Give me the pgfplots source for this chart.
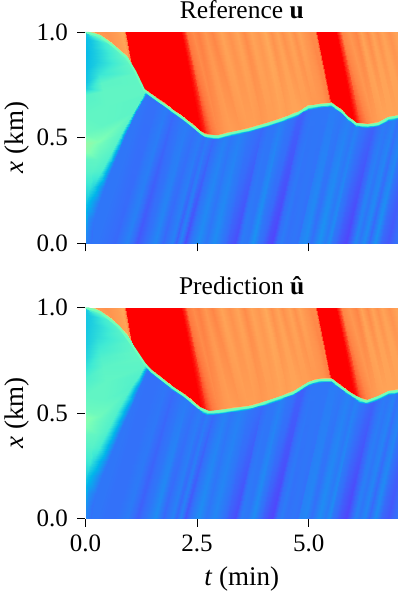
\documentclass[border=0pt]{standalone}
\usepackage{pgfplots}
\pgfplotsset{compat=1.18}
\usepackage{fontspec}
\setmainfont{Liberation Serif}
% close to matplotlib "rainbow"
\pgfplotsset{
colormap={rb}{rgb=(.5,0,1) rgb=(.21,.43,.98) rgb=(0,.71,.92) rgb=(.25,.92,.83) rgb=(.5,1,.71) rgb=(.75,.92,.56) rgb=(1,.71,.38) rgb=(1,.42,.22) rgb=(1,0,0)},
field/.style={
 scale only axis,width=312.5bp,height=211.2bp,view={0}{90},
 xmin=0,xmax=7,ymin=0,ymax=1,zmin=-1,zmax=1,
 point meta min=0,point meta max=1,colormap name=rb,
 axis line style={draw=none},xtick pos=lower,ytick pos=left,
 xtick={0,2.5,5},ytick={0,0.5,1},
 tick align=outside,major tick length=8bp,
 tick style={black,line width=.9bp},
 ticklabel style={font=\fontsize{25bp}{30bp}\selectfont,/pgf/number format/assume math mode=true,/pgf/number format/fixed,/pgf/number format/fixed zerofill,/pgf/number format/precision=1},
 xticklabel style={yshift=-5bp},yticklabel style={xshift=-6bp},
 label style={font=\fontsize{27bp}{30bp}\selectfont},
 every axis title shift=0pt,
 title style={font=\fontsize{25.5bp}{30bp}\selectfont,at={(0.5,1)},anchor=base,yshift=13bp},
 ylabel={\textit{x} (km)},
 ylabel style={at={(0,0.5)},anchor=base,rotate=0,yshift=62bp},
},
mesh5/.style={surf,shader=interp,mesh/cols=5,point meta=explicit},
mesh4/.style={surf,shader=interp,mesh/cols=4,point meta=explicit},
front/.style={color={rgb,1:red,.45;green,1;blue,.72},line width=2bp,line join=round},
edge/.style={color=white,opacity=.3,line width=1bp},
}
\begin{document}
\begin{tikzpicture}
\path[use as bounding box] (-85.5bp,-76.3bp) rectangle (312.5bp,518.7bp);
\begin{axis}[field,at={(0bp,275.5bp)},title={Reference \textbf{u}},xticklabels={}]
\addplot3[mesh5] table[row sep=\\,z expr=0,meta=c] {t x c\\
-1.5 0 .14\\ 0 .988 .14\\ 0 1 .46\\ 0 1.01 .8\\ 0 1.02 .8\\
-1.34 0 .14\\ .15 .979 .14\\ .15 .991 .46\\ .15 1.003 .8\\ .14 1.02 .8\\
-1.14 0 .14\\ .33 .968 .14\\ .33 .98 .46\\ .33 .992 .8\\ .31 1 .8\\
-.93 0 .14\\ .5 .941 .14\\ .5 .953 .46\\ .5 .965 .8\\ .46 1 .81\\
-.77 0 .14\\ .63 .92 .14\\ .63 .932 .46\\ .63 .944 .8\\ .57 1 .8\\
-.55 0 .14\\ .8 .889 .14\\ .8 .901 .46\\ .8 .913 .79\\ .71 1 .79\\
-.39 0 .14\\ .93 .865 .14\\ .93 .877 .46\\ .93 .889 .78\\ .82 1 .77\\
-.28 0 .14\\ 1 .841 .14\\ 1 .853 .46\\ 1 .865 .82\\ .87 1 .78\\
-.2 0 .14\\ 1.05 .823 .14\\ 1.05 .835 .46\\ 1.05 .847 1\\ .9 1 1\\
-.11 0 .14\\ 1.11 .802 .14\\ 1.11 .814 .46\\ 1.11 .826 1\\ .94 1 1\\
.05 0 .14\\ 1.2 .752 .14\\ 1.2 .764 .46\\ 1.2 .776 1\\ 1 1 1\\
.23 0 .14\\ 1.315 .712 .14\\ 1.315 .724 .46\\ 1.315 .736 1\\ 1.07 1 1\\
.43 0 .13\\ 1.45 .691 .13\\ 1.45 .703 .46\\ 1.45 .715 1\\ 1.18 1 1\\
.65 0 .12\\ 1.6 .668 .13\\ 1.6 .68 .46\\ 1.6 .692 1\\ 1.31 1 1\\
.92 0 .16\\ 1.8 .638 .15\\ 1.8 .65 .46\\ 1.8 .662 1\\ 1.49 1 1\\
1.16 0 .10\\ 1.97 .612 .12\\ 1.97 .624 .46\\ 1.97 .636 1\\ 1.63 1 1\\
1.35 0 .13\\ 2.13 .588 .14\\ 2.13 .6 .46\\ 2.13 .612 1\\ 1.77 1 1\\
1.55 0 .17\\ 2.27 .565 .15\\ 2.27 .577 .46\\ 2.27 .589 1\\ 1.89 1 1\\
1.73 0 .12\\ 2.42 .54 .13\\ 2.42 .552 .46\\ 2.42 .564 1\\ 2.02 1 1\\
1.94 0 .16\\ 2.57 .513 .15\\ 2.57 .525 .46\\ 2.57 .537 1\\ 2.14 1 1\\
2.03 0 .11\\ 2.65 .501 .13\\ 2.65 .513 .46\\ 2.65 .525 .97\\ 2.21 1 .95\\
2.11 0 .16\\ 2.72 .496 .15\\ 2.72 .508 .46\\ 2.72 .52 .92\\ 2.28 1 .85\\
2.24 0 .09\\ 2.85 .493 .12\\ 2.85 .505 .46\\ 2.85 .517 .85\\ 2.4 1 .82\\
2.39 0 .15\\ 2.97 .493 .14\\ 2.97 .505 .46\\ 2.97 .517 .82\\ 2.52 1 .84\\
2.53 0 .18\\ 3.12 .501 .16\\ 3.12 .513 .46\\ 3.12 .525 .8\\ 2.68 1 .8\\
2.7 0 .14\\ 3.27 .509 .14\\ 3.27 .521 .46\\ 3.27 .533 .79\\ 2.84 1 .83\\
2.87 0 .18\\ 3.45 .517 .16\\ 3.45 .529 .46\\ 3.45 .541 .8\\ 3.03 1 .78\\
3.05 0 .14\\ 3.64 .525 .14\\ 3.64 .537 .46\\ 3.64 .549 .79\\ 3.22 1 .81\\
3.2 0 .11\\ 3.8 .535 .13\\ 3.8 .547 .46\\ 3.8 .559 .79\\ 3.39 1 .78\\
3.34 0 .09\\ 3.95 .544 .12\\ 3.95 .556 .46\\ 3.95 .568 .8\\ 3.55 1 .82\\
3.48 0 .15\\ 4.1 .554 .14\\ 4.1 .566 .46\\ 4.1 .578 .79\\ 3.71 1 .78\\
3.62 0 .14\\ 4.25 .564 .14\\ 4.25 .576 .46\\ 4.25 .588 .79\\ 3.87 1 .8\\
3.75 0 .19\\ 4.39 .573 .16\\ 4.39 .585 .46\\ 4.39 .597 .78\\ 4.02 1 .77\\
3.86 0 .14\\ 4.52 .584 .14\\ 4.52 .596 .46\\ 4.52 .608 .79\\ 4.16 1 .81\\
3.98 0 .12\\ 4.65 .595 .13\\ 4.65 .607 .46\\ 4.65 .619 .78\\ 4.3 1 .78\\
4.08 0 .09\\ 4.76 .604 .11\\ 4.76 .616 .46\\ 4.76 .628 .78\\ 4.41 1 .81\\
4.18 0 .08\\ 4.88 .62 .11\\ 4.88 .632 .46\\ 4.88 .644 .79\\ 4.55 1 .78\\
4.28 0 .13\\ 4.99 .633 .13\\ 4.99 .645 .46\\ 4.99 .657 .79\\ 4.67 1 .81\\
4.39 0 .15\\ 5.1 .637 .14\\ 5.1 .649 .46\\ 5.1 .661 .8\\ 4.78 1 .78\\
4.49 0 .13\\ 5.21 .64 .14\\ 5.21 .652 .46\\ 5.21 .664 .8\\ 4.9 1 .8\\
4.63 0 .14\\ 5.35 .643 .14\\ 5.35 .655 .46\\ 5.35 .667 .81\\ 5.04 1 .82\\
4.73 0 .13\\ 5.45 .646 .14\\ 5.45 .658 .46\\ 5.45 .67 .84\\ 5.14 1 .82\\
4.79 0 .16\\ 5.51 .647 .15\\ 5.51 .659 .46\\ 5.51 .671 1\\ 5.19 1 1\\
4.91 0 .18\\ 5.62 .63 .15\\ 5.62 .642 .46\\ 5.62 .654 1\\ 5.3 1 1\\
5.05 0 .13\\ 5.74 .612 .14\\ 5.74 .624 .46\\ 5.74 .636 1\\ 5.4 1 1\\
5.24 0 .19\\ 5.89 .58 .16\\ 5.89 .592 .46\\ 5.89 .604 1\\ 5.52 1 1\\
5.37 0 .15\\ 6 .563 .14\\ 6 .575 .46\\ 6 .587 1\\ 5.62 1 1\\
5.45 0 .18\\ 6.07 .552 .16\\ 6.07 .564 .46\\ 6.07 .576 .98\\ 5.68 1 .93\\
5.53 0 .14\\ 6.15 .548 .14\\ 6.15 .56 .46\\ 6.15 .572 .9\\ 5.75 1 .83\\
5.69 0 .1\\ 6.3 .546 .12\\ 6.3 .558 .46\\ 6.3 .57 .83\\ 5.9 1 .8\\
5.83 0 .08\\ 6.45 .55 .11\\ 6.45 .562 .46\\ 6.45 .574 .8\\ 6.06 1 .83\\
5.94 0 .12\\ 6.56 .554 .13\\ 6.56 .566 .46\\ 6.56 .578 .79\\ 6.17 1 .78\\
6.04 0 .17\\ 6.68 .568 .15\\ 6.68 .58 .46\\ 6.68 .592 .78\\ 6.3 1 .82\\
6.13 0 .14\\ 6.78 .58 .14\\ 6.78 .592 .46\\ 6.78 .604 .78\\ 6.41 1 .78\\
6.24 0 .18\\ 6.9 .584 .16\\ 6.9 .596 .46\\ 6.9 .608 .78\\ 6.54 1 .81\\
6.34 0 .12\\ 7 .588 .13\\ 7 .6 .46\\ 7 .612 .78\\ 6.64 1 .78\\
6.49 0 .19\\ 7.15 .592 .16\\ 7.15 .604 .46\\ 7.15 .616 .78\\ 6.79 1 .81\\
6.63 0 .12\\ 7.3 .596 .13\\ 7.3 .608 .46\\ 7.3 .62 .78\\ 6.95 1 .78\\
6.78 0 .1\\ 7.45 .6 .12\\ 7.45 .612 .46\\ 7.45 .624 .78\\ 7.1 1 .8\\
7.02 0 .14\\ 7.7 .608 .14\\ 7.7 .62 .46\\ 7.7 .632 .78\\ 7.36 1 .78\\
};
\addplot3[mesh4] table[row sep=\\,z expr=0,meta=c] {t x c\\
0 1 .3\\ 0 1 .3\\ 0 1 .4\\ 0 1 .46\\
0 .97 .27\\ .07 .965 .28\\ .2 .975 .38\\ .22 .987 .46\\
0 .9 .26\\ .15 .92 .29\\ .5 .941 .4\\ .5 .953 .46\\
0 .82 .27\\ .25 .86 .31\\ .78 .889 .43\\ .8 .901 .46\\
0 .76 .28\\ .3 .8 .36\\ .98 .848 .44\\ 1 .853 .46\\
0 .735 .3\\ .35 .76 .43\\ 1.1 .805 .44\\ 1.11 .814 .46\\
0 .7 .42\\ .4 .72 .44\\ 1.2 .755 .44\\ 1.21 .762 .46\\
0 .6 .44\\ .45 .65 .44\\ 1.3 .715 .44\\ 1.33 .722 .46\\
0 .52 .46\\ .4 .56 .44\\ 1.26 .69 .43\\ 1.36 .704 .14\\
0 .47 .55\\ .3 .485 .5\\ 1.06 .62 .43\\ 1.14 .62 .14\\
0 .44 .53\\ .35 .47 .47\\ .82 .53 .43\\ .94 .53 .14\\
0 .4 .44\\ .25 .4 .44\\ .57 .43 .42\\ .73 .43 .15\\
0 .34 .42\\ .15 .34 .42\\ .34 .34 .4\\ .54 .34 .15\\
0 .27 .36\\ .1 .27 .36\\ .17 .27 .33\\ .42 .27 .15\\
0 .2 .3\\ .02 .2 .3\\ .05 .2 .27\\ .3 .2 .15\\
0 .12 .24\\ .03 .12 .22\\ .06 .12 .18\\ .2 .12 .14\\
0 .05 .2\\ .02 .05 .18\\ .05 .05 .16\\ .15 .05 .13\\
0 0 .17\\ .02 0 .16\\ .05 0 .15\\ .12 0 .13\\
};
\addplot3[front] coordinates {(0,1,0)(.33,.98,0)(.63,.932,0)(.93,.877,0)(1.11,.814,0)(1.315,.724,0)(1.6,.68,0)(1.97,.624,0)(2.27,.577,0)(2.57,.525,0)(2.67,.51,0)(2.97,.505,0)(3.27,.521,0)(3.64,.537,0)(4.02,.561,0)(4.39,.585,0)(4.76,.616,0)(4.99,.645,0)(5.21,.652,0)(5.51,.659,0)(5.74,.624,0)(5.89,.592,0)(6.07,.564,0)(6.33,.558,0)(6.56,.566,0)(6.78,.592,0)(7,.6,0)};
\addplot3[edge] coordinates {(.2,1,0)(7,1,0)};
\end{axis}
\begin{axis}[field,at={(0bp,0bp)},title={Prediction \textbf{û}},
 xlabel={\textit{t} (min)},xlabel style={at={(0.5,0)},anchor=base,yshift=-66.3bp}]
\addplot3[mesh5] table[row sep=\\,z expr=0,meta=c] {t x c\\
-1.5 0 .14\\ 0 .988 .14\\ 0 1 .46\\ 0 1.01 .8\\ 0 1.02 .8\\
-1.34 0 .14\\ .15 .981 .14\\ .15 .993 .46\\ .15 1.005 .8\\ .14 1.02 .8\\
-1.14 0 .14\\ .33 .966 .14\\ .33 .978 .46\\ .33 .99 .8\\ .31 1 .8\\
-.93 0 .14\\ .5 .94 .14\\ .5 .952 .46\\ .5 .964 .8\\ .46 1 .81\\
-.77 0 .14\\ .63 .918 .14\\ .63 .93 .46\\ .63 .942 .8\\ .57 1 .8\\
-.55 0 .14\\ .8 .883 .14\\ .8 .895 .46\\ .8 .907 .79\\ .71 1 .79\\
-.39 0 .14\\ .93 .854 .14\\ .93 .866 .46\\ .93 .878 .78\\ .82 1 .77\\
-.28 0 .14\\ 1 .833 .14\\ 1 .845 .46\\ 1 .857 .82\\ .87 1 .78\\
-.2 0 .14\\ 1.05 .814 .14\\ 1.05 .826 .46\\ 1.05 .838 1\\ .9 1 1\\
-.11 0 .14\\ 1.11 .79 .14\\ 1.11 .802 .46\\ 1.11 .814 1\\ .94 1 1\\
.05 0 .14\\ 1.2 .758 .14\\ 1.2 .77 .46\\ 1.2 .782 1\\ 1 1 1\\
.23 0 .14\\ 1.315 .723 .14\\ 1.315 .735 .46\\ 1.315 .747 1\\ 1.07 1 1\\
.43 0 .13\\ 1.45 .69 .13\\ 1.45 .702 .46\\ 1.45 .714 1\\ 1.18 1 1\\
.65 0 .13\\ 1.6 .664 .13\\ 1.6 .676 .46\\ 1.6 .688 1\\ 1.31 1 1\\
.92 0 .15\\ 1.8 .632 .14\\ 1.8 .644 .46\\ 1.8 .656 1\\ 1.49 1 1\\
1.16 0 .11\\ 1.97 .605 .12\\ 1.97 .617 .46\\ 1.97 .629 1\\ 1.63 1 1\\
1.35 0 .14\\ 2.13 .583 .14\\ 2.13 .595 .46\\ 2.13 .607 1\\ 1.77 1 1\\
1.55 0 .18\\ 2.27 .561 .15\\ 2.27 .573 .46\\ 2.27 .585 1\\ 1.89 1 1\\
1.73 0 .12\\ 2.42 .534 .13\\ 2.42 .546 .46\\ 2.42 .558 1\\ 2.02 1 1\\
1.94 0 .16\\ 2.57 .508 .15\\ 2.57 .52 .46\\ 2.57 .532 1\\ 2.14 1 1\\
2.03 0 .12\\ 2.65 .498 .13\\ 2.65 .51 .46\\ 2.65 .522 .97\\ 2.21 1 .95\\
2.11 0 .16\\ 2.72 .493 .15\\ 2.72 .505 .46\\ 2.72 .517 .92\\ 2.28 1 .85\\
2.24 0 .1\\ 2.85 .491 .12\\ 2.85 .503 .46\\ 2.85 .515 .85\\ 2.4 1 .82\\
2.39 0 .15\\ 2.97 .495 .14\\ 2.97 .507 .46\\ 2.97 .519 .82\\ 2.52 1 .84\\
2.53 0 .18\\ 3.12 .5 .16\\ 3.12 .512 .46\\ 3.12 .524 .8\\ 2.68 1 .8\\
2.7 0 .14\\ 3.27 .504 .14\\ 3.27 .516 .46\\ 3.27 .528 .79\\ 2.84 1 .83\\
2.87 0 .17\\ 3.45 .51 .16\\ 3.45 .522 .46\\ 3.45 .534 .8\\ 3.03 1 .78\\
3.05 0 .14\\ 3.64 .515 .14\\ 3.64 .527 .46\\ 3.64 .539 .79\\ 3.22 1 .81\\
3.2 0 .11\\ 3.8 .524 .13\\ 3.8 .536 .46\\ 3.8 .548 .79\\ 3.39 1 .78\\
3.34 0 .09\\ 3.95 .533 .12\\ 3.95 .545 .46\\ 3.95 .557 .8\\ 3.55 1 .82\\
3.48 0 .15\\ 4.1 .543 .14\\ 4.1 .555 .46\\ 4.1 .567 .79\\ 3.71 1 .78\\
3.62 0 .14\\ 4.25 .554 .14\\ 4.25 .566 .46\\ 4.25 .578 .79\\ 3.87 1 .8\\
3.75 0 .18\\ 4.39 .564 .16\\ 4.39 .576 .46\\ 4.39 .588 .78\\ 4.02 1 .77\\
3.86 0 .14\\ 4.52 .574 .14\\ 4.52 .586 .46\\ 4.52 .598 .79\\ 4.16 1 .81\\
3.98 0 .11\\ 4.65 .584 .13\\ 4.65 .596 .46\\ 4.65 .608 .78\\ 4.3 1 .78\\
4.08 0 .09\\ 4.76 .598 .11\\ 4.76 .61 .46\\ 4.76 .622 .78\\ 4.41 1 .81\\
4.18 0 .08\\ 4.88 .614 .11\\ 4.88 .626 .46\\ 4.88 .638 .79\\ 4.55 1 .78\\
4.28 0 .13\\ 4.99 .629 .13\\ 4.99 .641 .46\\ 4.99 .653 .79\\ 4.67 1 .81\\
4.39 0 .15\\ 5.1 .638 .14\\ 5.1 .65 .46\\ 5.1 .662 .8\\ 4.78 1 .78\\
4.49 0 .13\\ 5.21 .643 .14\\ 5.21 .655 .46\\ 5.21 .667 .8\\ 4.9 1 .8\\
4.63 0 .14\\ 5.35 .645 .14\\ 5.35 .657 .46\\ 5.35 .669 .81\\ 5.04 1 .82\\
4.73 0 .13\\ 5.45 .645 .14\\ 5.45 .657 .46\\ 5.45 .669 .84\\ 5.14 1 .82\\
4.79 0 .16\\ 5.51 .645 .15\\ 5.51 .657 .46\\ 5.51 .669 1\\ 5.19 1 1\\
4.91 0 .17\\ 5.62 .626 .15\\ 5.62 .638 .46\\ 5.62 .65 1\\ 5.3 1 1\\
5.05 0 .13\\ 5.74 .608 .14\\ 5.74 .62 .46\\ 5.74 .632 1\\ 5.4 1 1\\
5.24 0 .18\\ 5.89 .586 .16\\ 5.89 .598 .46\\ 5.89 .61 1\\ 5.52 1 1\\
5.37 0 .15\\ 6 .57 .14\\ 6 .582 .46\\ 6 .594 1\\ 5.62 1 1\\
5.45 0 .18\\ 6.07 .56 .16\\ 6.07 .572 .46\\ 6.07 .584 .98\\ 5.68 1 .93\\
5.53 0 .14\\ 6.15 .55 .14\\ 6.15 .562 .46\\ 6.15 .574 .9\\ 5.75 1 .83\\
5.69 0 .1\\ 6.3 .543 .12\\ 6.3 .555 .46\\ 6.3 .567 .83\\ 5.9 1 .8\\
5.83 0 .08\\ 6.45 .554 .11\\ 6.45 .566 .46\\ 6.45 .578 .8\\ 6.06 1 .83\\
5.94 0 .12\\ 6.56 .564 .13\\ 6.56 .576 .46\\ 6.56 .588 .79\\ 6.17 1 .78\\
6.04 0 .16\\ 6.68 .578 .15\\ 6.68 .59 .46\\ 6.68 .602 .78\\ 6.3 1 .82\\
6.13 0 .14\\ 6.78 .586 .14\\ 6.78 .598 .46\\ 6.78 .61 .78\\ 6.41 1 .78\\
6.24 0 .17\\ 6.9 .59 .16\\ 6.9 .602 .46\\ 6.9 .614 .78\\ 6.54 1 .81\\
6.34 0 .12\\ 7 .593 .13\\ 7 .605 .46\\ 7 .617 .78\\ 6.64 1 .78\\
6.49 0 .18\\ 7.15 .598 .16\\ 7.15 .61 .46\\ 7.15 .622 .78\\ 6.79 1 .81\\
6.63 0 .12\\ 7.3 .6 .13\\ 7.3 .612 .46\\ 7.3 .624 .78\\ 6.95 1 .78\\
6.78 0 .1\\ 7.45 .603 .12\\ 7.45 .615 .46\\ 7.45 .627 .78\\ 7.1 1 .8\\
7.02 0 .14\\ 7.7 .608 .14\\ 7.7 .62 .46\\ 7.7 .632 .78\\ 7.36 1 .78\\
};
\addplot3[mesh4] table[row sep=\\,z expr=0,meta=c] {t x c\\
0 1 .3\\ 0 1 .3\\ 0 1 .4\\ 0 1 .46\\
0 .97 .29\\ .07 .965 .3\\ .2 .975 .38\\ .22 .988 .46\\
0 .9 .29\\ .15 .92 .31\\ .5 .94 .4\\ .5 .952 .46\\
0 .82 .3\\ .25 .86 .34\\ .78 .883 .42\\ .8 .895 .46\\
0 .76 .32\\ .3 .8 .38\\ .98 .84 .43\\ 1 .848 .46\\
0 .72 .35\\ .35 .76 .41\\ 1.1 .795 .44\\ 1.11 .802 .46\\
0 .66 .4\\ .4 .72 .43\\ 1.2 .76 .44\\ 1.21 .767 .46\\
0 .58 .44\\ .45 .65 .44\\ 1.3 .725 .43\\ 1.33 .728 .46\\
0 .52 .46\\ .4 .56 .44\\ 1.2 .68 .41\\ 1.38 .704 .14\\
0 .47 .52\\ .3 .485 .47\\ 1 .62 .41\\ 1.2 .62 .14\\
0 .44 .5\\ .35 .47 .45\\ .74 .53 .41\\ 1.02 .53 .14\\
0 .4 .45\\ .25 .4 .44\\ .5 .43 .41\\ .8 .43 .15\\
0 .34 .42\\ .15 .34 .42\\ .3 .34 .39\\ .62 .34 .15\\
0 .27 .37\\ .1 .27 .37\\ .16 .27 .33\\ .48 .27 .15\\
0 .2 .31\\ .02 .2 .31\\ .05 .2 .28\\ .35 .2 .15\\
0 .12 .24\\ .03 .12 .22\\ .06 .12 .19\\ .24 .12 .14\\
0 .05 .2\\ .02 .05 .18\\ .05 .05 .16\\ .15 .05 .13\\
0 0 .17\\ .02 0 .16\\ .05 0 .15\\ .12 0 .13\\
};
\addplot3[front] coordinates {(0,1,0)(.33,.978,0)(.75,.909,0)(1.12,.799,0)(1.33,.732,0)(1.49,.696,0)(1.87,.633,0)(2.24,.578,0)(2.54,.524,0)(2.77,.505,0)(3.21,.515,0)(3.74,.53,0)(4.19,.562,0)(4.63,.594,0)(5,.642,0)(5.23,.656,0)(5.53,.656,0)(5.75,.618,0)(5.98,.585,0)(6.28,.554,0)(6.58,.578,0)(6.8,.6,0)(7,.605,0)};
\addplot3[edge] coordinates {(.2,1,0)(7,1,0)};
\end{axis}
\end{tikzpicture}
\end{document}
